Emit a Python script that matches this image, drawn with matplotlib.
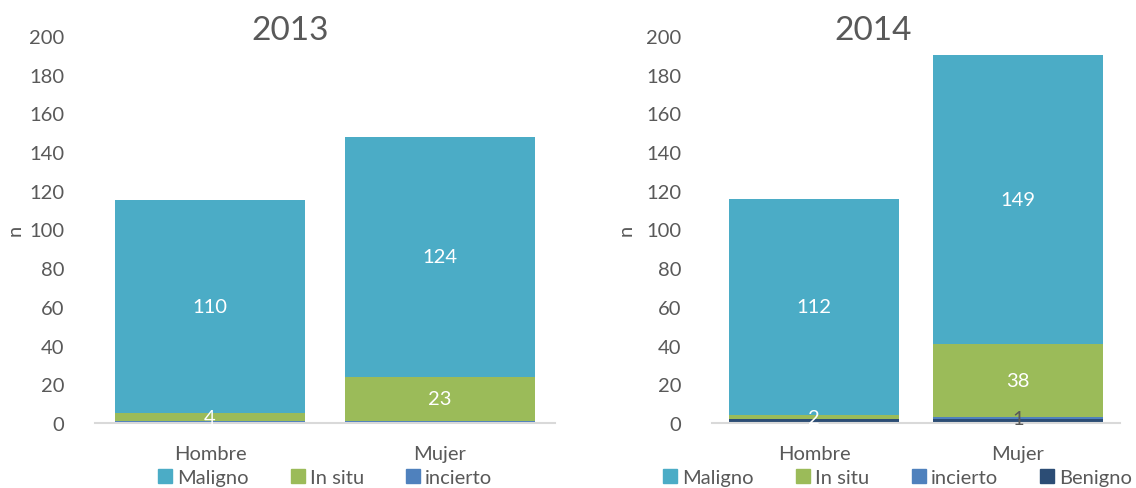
import matplotlib.pyplot as plt
from matplotlib.patches import Patch

plt.rcParams['font.family'] = ['Lato', 'DejaVu Sans']

categories = ['Hombre', 'Mujer']

# 2013
maligno_13 = [110, 124]
insitu_13 = [4, 23]
incierto_13 = [1, 1]

# 2014
benigno_14 = [2, 2]
incierto_14 = [0, 1]
insitu_14 = [2, 38]
maligno_14 = [112, 149]

c_mal = '#4BACC6'
c_ins = '#9BBB59'
c_inc = '#4F81BD'
c_ben = '#2C4D75'
txt = '#595959'
fs = 14.5

fig = plt.figure(figsize=(11.36, 4.89), dpi=100)
ax1 = fig.add_axes([95/1136, 1-424/489, 460/1136, 387/489])
ax2 = fig.add_axes([712/1136, 1-424/489, 408/1136, 387/489])

x = [0, 1]
w = 0.83


def stack(ax, layers):
    bottom = [0, 0]
    for vals, color, lab, lcol in layers:
        bars = ax.bar(x, vals, w, bottom=bottom, color=color, label=lab)
        for i, b in enumerate(bars):
            if lcol is not None and vals[i] > 0:
                ax.text(b.get_x() + w/2, bottom[i] + vals[i]/2, str(vals[i]),
                        ha='center', va='center', color=lcol, fontsize=fs)
        bottom = [bottom[i] + vals[i] for i in range(2)]


stack(ax1, [(incierto_13, c_inc, 'incierto', None),
            (insitu_13, c_ins, 'In situ', 'white'),
            (maligno_13, c_mal, 'Maligno', 'white')])
stack(ax2, [(benigno_14, c_ben, 'Benigno', None),
            (incierto_14, c_inc, 'incierto', txt),
            (insitu_14, c_ins, 'In situ', 'white'),
            (maligno_14, c_mal, 'Maligno', 'white')])

for ax, title, tx in [(ax1, '2013', 0.424), (ax2, '2014', 0.395)]:
    ax.set_ylim(0, 200)
    ax.set_xlim(-0.5, 1.5)
    ax.set_yticks(range(0, 201, 20))
    ax.set_xticks(x)
    ax.set_xticklabels(categories)
    for s in ['top', 'right', 'left']:
        ax.spines[s].set_visible(False)
    ax.spines['bottom'].set_color('#D9D9D9')
    ax.spines['bottom'].set_linewidth(1.5)
    ax.tick_params(length=0, labelsize=fs, labelcolor=txt)
    ax.tick_params(axis='y', pad=22)
    ax.tick_params(axis='x', pad=16)
    ax.set_ylabel('n', color=txt, fontsize=fs)
    ax.text(tx, (424 - 40) / 387, title, transform=ax.transAxes, ha='center',
            va='baseline', fontsize=24, color=txt)

ax1.yaxis.set_label_coords(-0.155, 0.5)
ax2.yaxis.set_label_coords(-0.19, 0.5)

leg1 = [Patch(color=c_mal, label='Maligno'), Patch(color=c_ins, label='In situ'),
        Patch(color=c_inc, label='incierto')]
leg2 = leg1 + [Patch(color=c_ben, label='Benigno')]
for ax, h, lx in [(ax1, leg1, 0.5), (ax2, leg2, 0.455)]:
    ax.legend(handles=h, ncol=len(h), loc='center', bbox_to_anchor=(lx, -0.14),
              frameon=False, fontsize=fs, labelcolor=txt, handlelength=0.7,
              handleheight=0.7, handletextpad=0.25, columnspacing=2.1)

fig.savefig('out.png', dpi=100)
